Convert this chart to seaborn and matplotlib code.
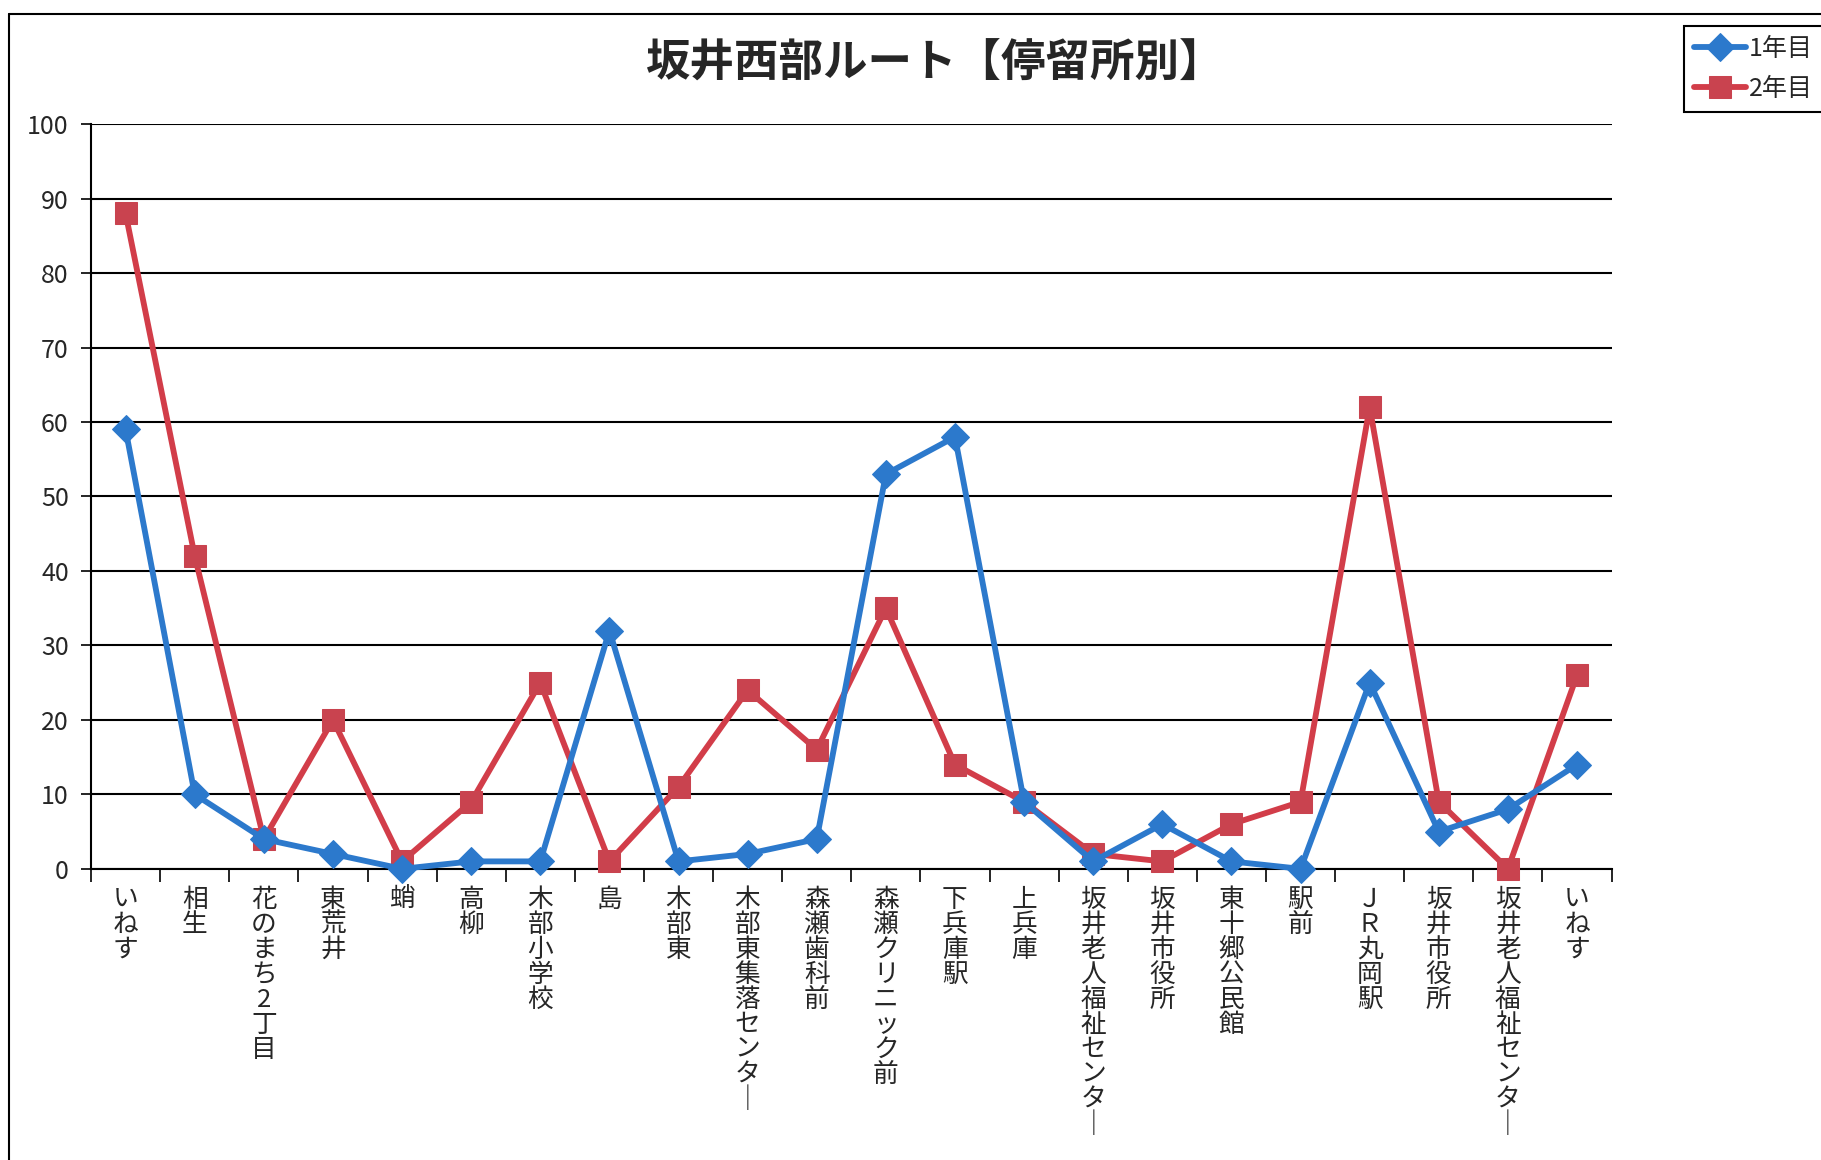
"""坂井西部ルート【停留所別】: 1年目 / 2年目 の停留所別利用者数（折れ線）。"""

import matplotlib
matplotlib.use("Agg")
import matplotlib.pyplot as plt
from matplotlib.lines import Line2D
import numpy as np
import seaborn as sns

# ---------------------------------------------------------------------------
# データ
# ---------------------------------------------------------------------------
TITULO = "坂井西部ルート【停留所別】"
PARADAS = [
    "いねす", "相生", "花のまち2丁目", "東荒井", "蛸", "高柳", "木部小学校", "島",
    "木部東", "木部東集落センター", "森瀬歯科前", "森瀬クリニック前", "下兵庫駅",
    "上兵庫", "坂井老人福祉センター", "坂井市役所", "東十郷公民館", "駅前",
    "ＪＲ丸岡駅", "坂井市役所", "坂井老人福祉センター", "いねす",
]
ANIO_1 = [59, 10, 4, 2, 0, 1, 1, 32, 1, 2, 4, 53, 58, 9, 1, 6, 1, 0, 25, 5, 8, 14]
ANIO_2 = [88, 42, 4, 20, 1, 9, 25, 1, 11, 24, 16, 35, 14, 9, 2, 1, 6, 9, 62, 9, 0, 26]
SERIES = ["1年目", "2年目"]
Y_TICKS = list(range(0, 101, 10))

AZUL = "#2c79cc"
ROJO = "#d23d49"
ROJO_MARCA = "#c9434f"


def etiqueta_vertical(texto: str) -> str:
    """Texto en vertical: un carácter por línea (ー pasa a trazo vertical)."""
    return "\n".join("｜" if c == "ー" else c for c in texto)


sns.set_style("white")
plt.rcParams["font.family"] = ["Noto Sans CJK JP", "DejaVu Sans"]

fig = plt.figure(figsize=(18.21, 11.6), dpi=100)
ax = fig.add_axes([0.050, 0.251, 0.835, 0.642])

x = np.arange(len(PARADAS))
sns.lineplot(x=x, y=ANIO_1, ax=ax, color=AZUL, linewidth=4.2, marker="D",
             markersize=14, markerfacecolor=AZUL, markeredgecolor=AZUL,
             label=SERIES[0], clip_on=False, zorder=4)
sns.lineplot(x=x, y=ANIO_2, ax=ax, color=ROJO, linewidth=4.2, marker="s",
             markersize=16, markerfacecolor=ROJO_MARCA, markeredgecolor=ROJO_MARCA,
             label=SERIES[1], clip_on=False, zorder=3)

ax.set_xlim(-0.5, len(PARADAS) - 0.5)
ax.set_ylim(0, 100)
ax.set_yticks(Y_TICKS)
ax.tick_params(axis="y", labelsize=18, length=7, width=1.2, pad=9, left=True,
               direction="out", color="black")
ax.grid(axis="y", color="black", linewidth=1.5)
ax.grid(axis="x", visible=False)
ax.set_axisbelow(True)

# marcas del eje x entre categorías, etiquetas en las categorías
ax.set_xticks(np.arange(-0.5, len(PARADAS)), labels=[""] * (len(PARADAS) + 1))
ax.tick_params(axis="x", which="major", length=9, width=1.2, bottom=True,
               direction="out", color="black")
ax.set_xticks(x, labels=[etiqueta_vertical(p) for p in PARADAS], minor=True)
ax.tick_params(axis="x", which="minor", length=0, pad=13, labelsize=18.5)
for t in ax.get_xticklabels(minor=True):
    t.set_linespacing(0.95)
    t.set_verticalalignment("top")

for lado in ["top", "right"]:
    ax.spines[lado].set_visible(False)
for lado in ["left", "bottom"]:
    ax.spines[lado].set_color("black")
    ax.spines[lado].set_linewidth(1.5)

ax.set_xlabel("")
ax.set_ylabel("")
ax.legend_.remove()

fig.text(0.513, 0.945, TITULO, ha="center", va="center", fontsize=32,
         fontweight="bold")

handles, labels = ax.get_legend_handles_labels()
leg = fig.legend(handles, labels, loc="upper left", bbox_to_anchor=(0.922, 0.982),
                 fontsize=18, frameon=True, fancybox=False, edgecolor="black",
                 framealpha=1, handlelength=2.1, handletextpad=0.1,
                 borderpad=0.4, borderaxespad=0.2, labelspacing=0.55)
leg.get_frame().set_linewidth(1.5)

# marco exterior del área del gráfico
fig.add_artist(Line2D([0.005, 1.0], [0.988, 0.988], transform=fig.transFigure,
                      color="black", linewidth=1.5))
fig.add_artist(Line2D([0.005, 0.005], [0.0, 0.988], transform=fig.transFigure,
                      color="black", linewidth=1.5))

fig.savefig("out.png", dpi=100)
